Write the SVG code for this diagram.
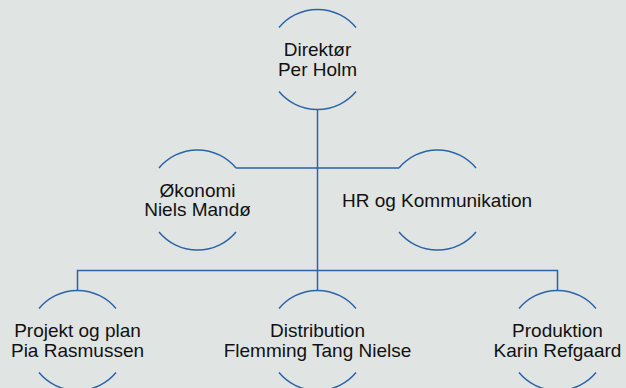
<svg xmlns="http://www.w3.org/2000/svg" width="626" height="388" viewBox="0 0 626 388">
<style>
.arc{fill:none;stroke:#2a64a8;stroke-width:1.5}
.ln{fill:none;stroke:#2a64a8;stroke-width:1.5}
text{font-family:"Liberation Sans",Arial,sans-serif;font-size:19px;fill:#111111;text-anchor:middle}
</style>
<rect x="0" y="0" width="626" height="388" fill="#e0e4e3"/>
<g id="connectors">
<path class="ln" d="M317.5 109.5 V290.5"/>
<path class="ln" d="M236 168 H399"/>
<path class="ln" d="M77.5 290.5 V270.5 H557.5 V290.5"/>
</g>
<g id="direktor">
<path class="arc" d="M279 27.5 A50 50 0 0 1 356 27.5"/>
<path class="arc" d="M279 91.5 A50 50 0 0 0 356 91.5"/>
<text x="317.5" y="55.5">Direktør</text>
<text x="317.5" y="75.5">Per Holm</text>
</g>
<g id="okonomi">
<path class="arc" d="M159 168 A50 50 0 0 1 236 168"/>
<path class="arc" d="M159 232 A50 50 0 0 0 236 232"/>
<text x="197.5" y="196.5">Økonomi</text>
<text x="197.5" y="216">Niels Mandø</text>
</g>
<g id="hr">
<path class="arc" d="M399 168 A50 50 0 0 1 476 168"/>
<path class="arc" d="M399 232 A50 50 0 0 0 476 232"/>
<text x="437" y="206.7">HR og Kommunikation</text>
</g>
<g id="projekt">
<path class="arc" d="M39 308.5 A50 50 0 0 1 116 308.5"/>
<path class="arc" d="M39 372.5 A50 50 0 0 0 116 372.5"/>
<text x="77.5" y="336.5">Projekt og plan</text>
<text x="77.5" y="356.5">Pia Rasmussen</text>
</g>
<g id="distribution">
<path class="arc" d="M279 308.5 A50 50 0 0 1 356 308.5"/>
<path class="arc" d="M279 372.5 A50 50 0 0 0 356 372.5"/>
<text x="317.5" y="336.5">Distribution</text>
<text x="317.5" y="356.5">Flemming Tang Nielse</text>
</g>
<g id="produktion">
<path class="arc" d="M519 308.5 A50 50 0 0 1 596 308.5"/>
<path class="arc" d="M519 372.5 A50 50 0 0 0 596 372.5"/>
<text x="557.5" y="336.5">Produktion</text>
<text x="557.5" y="356.5">Karin Refgaard</text>
</g>
</svg>
